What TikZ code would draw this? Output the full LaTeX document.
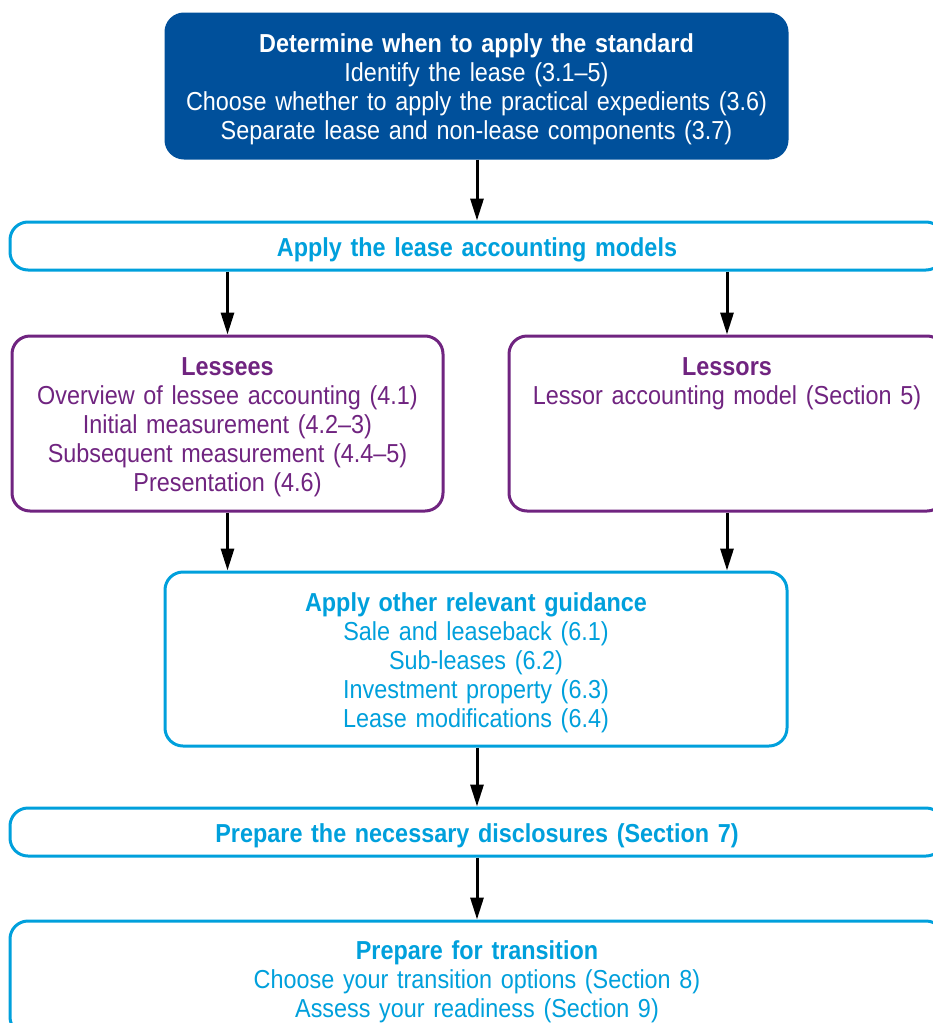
\documentclass[tikz,border=0pt]{standalone}
\usepackage{fontspec}
\setmainfont{Liberation Sans}[FakeStretch=0.9]
\usetikzlibrary{arrows.meta}

\begin{document}
\begin{tikzpicture}[x=1pt,y=-1pt,
	box/.style={draw, solid, line width=3, rounded corners=18, align=center,
		inner sep=0, font=\fontsize{26}{29}\selectfont,
		execute at begin node=\rule{0pt}{26pt}},
	flow/.style={BLACK, line width=3, -{Triangle[length=22pt,width=13pt]}}]
	\definecolor{BLACK}{RGB}{0,0,0}
	\definecolor{WHITE}{RGB}{255,255,255}
	\definecolor{DARKBLUE}{RGB}{0,80,155}
	\definecolor{CYAN}{RGB}{0,160,220}
	\definecolor{PURPLE}{RGB}{112,36,128}
	\useasboundingbox (0,0) rectangle (933,1023);
	\clip (0,0) rectangle (933,1023);
	% steps
	\node[box, DARKBLUE, fill=DARKBLUE, text=WHITE, minimum width=621, minimum height=144, text width=621]
	(standard) at (476.5,86)
	{{\bfseries Determine when to apply the standard}\\Identify the lease (3.1--5)\\
	Choose whether to apply the practical expedients (3.6)\\Separate lease and non-lease components (3.7)};
	\node[box, CYAN, fill=WHITE, minimum width=934, minimum height=48, text width=934]
	(models) at (477,246)
	{\bfseries Apply the lease accounting models};
	\node[box, PURPLE, fill=WHITE, minimum width=431, minimum height=175, text width=431]
	(lessees) at (227.5,423.5)
	{{\bfseries Lessees}\\Overview of lessee accounting (4.1)\\Initial measurement (4.2--3)\\
	Subsequent measurement (4.4--5)\\Presentation (4.6)};
	\node[box, PURPLE, fill=WHITE, minimum width=436, minimum height=175, text width=436]
	(lessors) at (727,423.5)
	{{\bfseries Lessors}\\Lessor accounting model (Section 5)\\[65pt]\mbox{}};
	\node[box, CYAN, fill=WHITE, minimum width=622, minimum height=174, text width=622]
	(guidance) at (476,659)
	{{\bfseries Apply other relevant guidance}\\Sale and leaseback (6.1)\\Sub-leases (6.2)\\
	Investment property (6.3)\\Lease modifications (6.4)};
	\node[box, CYAN, fill=WHITE, minimum width=934, minimum height=48, text width=934]
	(disclosures) at (477,832)
	{\bfseries Prepare the necessary disclosures (Section 7)};
	\node[box, CYAN, fill=WHITE, minimum width=934, minimum height=114, text width=934]
	(transition) at (477,978)
	{{\bfseries Prepare for transition}\\Choose your transition options (Section 8)\\
	Assess your readiness (Section 9)};
	% arrows
	\draw[flow] (standard.south -| models) -- (models.north);
	\draw[flow] (models.south -| lessees) -- (lessees.north);
	\draw[flow] (models.south -| lessors) -- (lessors.north);
	\draw[flow] (lessees.south) -- (lessees.south |- guidance.north);
	\draw[flow] (lessors.south) -- (lessors.south |- guidance.north);
	\draw[flow] (guidance.south -| disclosures) -- (disclosures.north);
	\draw[flow] (disclosures.south) -- (transition.north);
\end{tikzpicture}
\end{document}
